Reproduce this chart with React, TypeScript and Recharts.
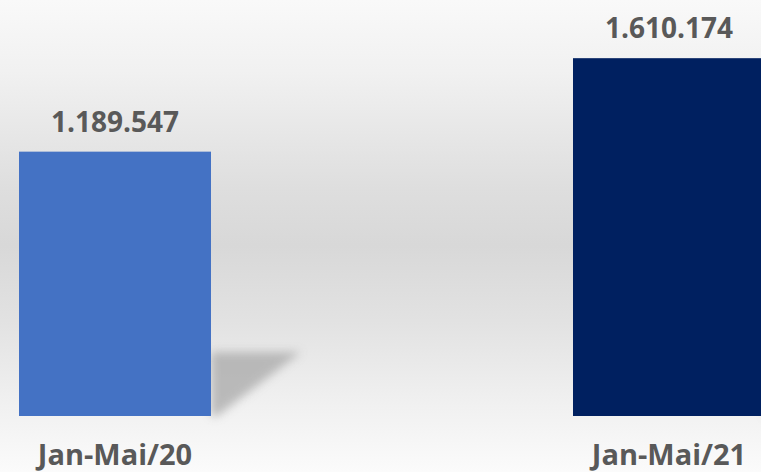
import { BarChart, Bar, XAxis, YAxis, Cell, LabelList } from 'recharts';

const categories = ['Jan-Mai/20', 'Jan-Mai/21'];
const values = [1189547, 1610174];
const barColors = ['#4472C4', '#002060'];

const data = categories.map((name, i) => ({ name, value: values[i] }));

const fmt = (v: number) => String(v).replace(/\B(?=(\d{3})+(?!\d))/g, '.');

// bar + soft perspective shadow on its right side
const ShadowBar = (props: any) => {
    const { x, y, width, height, fill, index } = props;
    const xr = x + width;
    const yb = y + height;
    const fid = `shadowBlur${index}`;
    const pts = [
        [xr, yb - 64],
        [xr + 90, yb - 64],
        [xr + 6, yb],
        [xr, yb],
    ].map((p) => p.join(',')).join(' ');
    return (
        <g>
            <defs>
                <filter id={fid} x="-50%" y="-50%" width="200%" height="200%">
                    <feGaussianBlur stdDeviation="5" />
                </filter>
            </defs>
            <polygon points={pts} fill="#a8a8a8" opacity={0.75} filter={`url(#${fid})`} />
            <rect x={x} y={y} width={width} height={height} fill={fill} />
        </g>
    );
};

const XTick = (props: any) => {
    const { x, y, payload } = props;
    return (
        <text x={x} y={y + 41} textAnchor="middle" fill="#595959" fontSize={29} fontWeight={700} fontFamily="'Open Sans', sans-serif">
            {payload.value}
        </text>
    );
};

export default function App() {
    return (
        <div
            style={{
                position: 'absolute',
                top: 0,
                left: 0,
                width: 761,
                height: 472,
                overflow: 'hidden',
                background: 'linear-gradient(to bottom, #f9f9f9 0%, #f1f1f1 15%, #dedede 40%, #d8d8d8 52%, #e2e2e2 68%, #f0f0f0 85%, #fbfbfb 100%)',
            }}
        >
            <div style={{ position: 'absolute', left: -162, top: 0 }}>
                <BarChart width={1108} height={472} data={data} margin={{ top: 16, right: 0, bottom: 0, left: 0 }}>
                    <XAxis dataKey="name" axisLine={false} tickLine={false} height={56} tick={<XTick />} interval={0} />
                    <YAxis hide domain={[0, 1800000]} />
                    <Bar dataKey="value" barSize={192} shape={<ShadowBar />} isAnimationActive={false}>
                        {data.map((d, i) => (
                            <Cell key={d.name} fill={barColors[i]} />
                        ))}
                        <LabelList
                            dataKey="value"
                            position="top"
                            offset={20}
                            formatter={(v: any) => fmt(Number(v))}
                            fill="#595959"
                            fontSize={28}
                            fontWeight={700}
                            fontFamily="'Open Sans', sans-serif"
                        />
                    </Bar>
                </BarChart>
            </div>
        </div>
    );
}
